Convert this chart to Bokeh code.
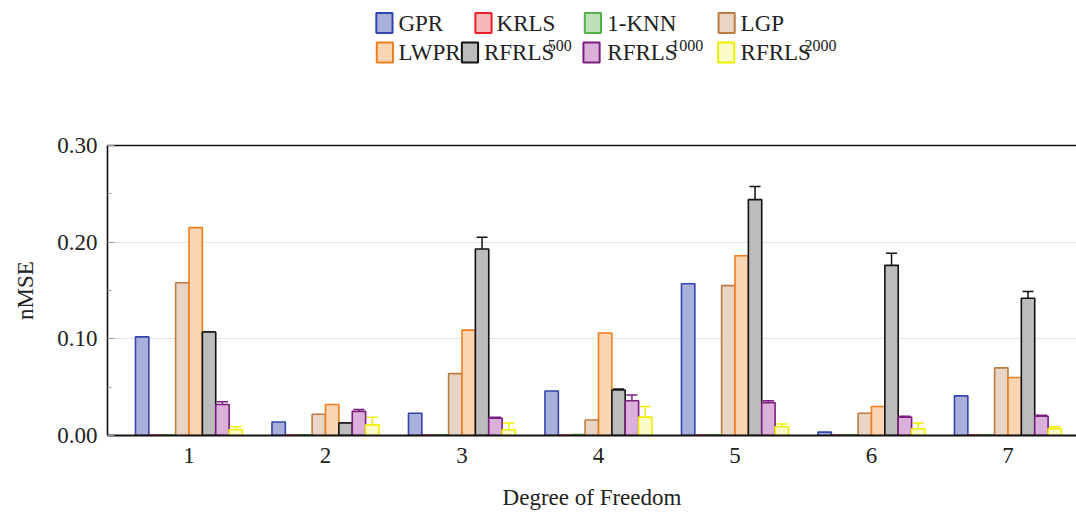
from bokeh.plotting import figure
from bokeh.models import (ColumnDataSource, Range1d, FixedTicker, LinearAxis,
                          Whisker, TeeHead, NumeralTickFormatter, Label)
from bokeh.layouts import column
from bokeh.transform import dodge
from bokeh.embed import file_html
from bokeh.resources import INLINE

# ---------------- data ----------------
dof = [1, 2, 3, 4, 5, 6, 7]
series = ["GPR", "KRLS", "1-KNN", "LGP", "LWPR", "RFRLS500", "RFRLS1000", "RFRLS2000"]
legend_base = ["GPR", "KRLS", "1-KNN", "LGP", "LWPR", "RFRLS", "RFRLS", "RFRLS"]
legend_sup = ["", "", "", "", "", "500", "1000", "2000"]

gpr = [0.102, 0.014, 0.023, 0.046, 0.157, 0.0035, 0.041]
krls = [0.0004, 0.0004, 0.0004, 0.0004, 0.0004, 0.0004, 0.0004]
knn = [0.0006, 0.0006, 0.0006, 0.001, 0.0006, 0.0006, 0.0006]
lgp = [0.158, 0.022, 0.064, 0.016, 0.155, 0.023, 0.070]
lwpr = [0.215, 0.032, 0.109, 0.106, 0.186, 0.030, 0.060]
rf500 = [0.107, 0.013, 0.193, 0.047, 0.244, 0.176, 0.142]
rf1000 = [0.032, 0.025, 0.018, 0.036, 0.034, 0.019, 0.020]
rf2000 = [0.006, 0.011, 0.006, 0.019, 0.009, 0.007, 0.007]

rf500_err = [0.0, 0.0, 0.012, 0.001, 0.0135, 0.0125, 0.007]
rf1000_err = [0.003, 0.002, 0.001, 0.006, 0.002, 0.001, 0.001]
rf2000_err = [0.003, 0.008, 0.007, 0.011, 0.003, 0.006, 0.002]

values = [gpr, krls, knn, lgp, lwpr, rf500, rf1000, rf2000]
errors = {5: rf500_err, 6: rf1000_err, 7: rf2000_err}

line_colors = ["#3344aa", "#e8202a", "#55b04a", "#bb7d42", "#f07d1e", "#111111", "#7a1f7f", "#eeee00"]
fill_colors = ["#aab0dc", "#f6b8b8", "#bde0b6", "#e8d5c6", "#fcd6b4", "#bcbcbc", "#dbb0db", "#fcfac8"]

SERIF = "Liberation Serif"
TXT = "#222222"
BAR_W = 0.098

# ---------------- main plot ----------------
p = figure(width=1076, height=416, output_backend="svg", toolbar_location=None,
           x_range=Range1d(0.403, 7.502), y_range=Range1d(0.0, 0.30),
           min_border_left=107, min_border_right=0, min_border_top=45, min_border_bottom=81)
p.outline_line_color = None
p.background_fill_color = "white"
p.border_fill_color = "white"

src = ColumnDataSource(dict(dof=dof, **{s: v for s, v in zip(series, values)}))

for i, s in enumerate(series):
    off = (i - 3.5) * BAR_W
    p.vbar(x=dodge("dof", off, range=p.x_range), top=s, bottom=0, width=BAR_W, source=src,
           fill_color=fill_colors[i], line_color=line_colors[i], line_width=1.6)
    if i in errors:
        err = errors[i]
        wsrc = ColumnDataSource(dict(
            base=[d + off for d in dof],
            lower=values[i],
            upper=[v + e for v, e in zip(values[i], err)]))
        p.add_layout(Whisker(source=wsrc, base="base", lower="lower", upper="upper",
                             dimension="height", line_color=line_colors[i], line_width=1.5,
                             upper_head=TeeHead(size=11, line_color=line_colors[i], line_width=1.5),
                             lower_head=None))

# axes
yax = p.yaxis[0]
yax.ticker = FixedTicker(ticks=[0.0, 0.1, 0.2, 0.3], minor_ticks=[0.05, 0.15, 0.25])
yax.formatter = NumeralTickFormatter(format="0.00")
yax.axis_label = "nMSE"
yax.axis_label_text_font = SERIF
yax.axis_label_text_font_size = "23px"
yax.axis_label_text_font_style = "normal"
yax.axis_label_text_color = TXT
yax.axis_label_standoff = 16
yax.major_label_text_font = SERIF
yax.major_label_text_font_size = "23px"
yax.major_label_text_color = TXT
yax.major_label_standoff = 10
yax.major_tick_in = 7
yax.major_tick_out = 0
yax.minor_tick_in = 4
yax.minor_tick_out = 0
yax.major_tick_line_color = "#9a9a9a"
yax.minor_tick_line_color = "#9a9a9a"
yax.axis_line_color = "#111111"
yax.axis_line_width = 1.6

xax = p.xaxis[0]
xax.ticker = FixedTicker(ticks=dof, minor_ticks=[])
xax.axis_label = "Degree of Freedom"
xax.axis_label_text_font = SERIF
xax.axis_label_text_font_size = "23px"
xax.axis_label_text_font_style = "normal"
xax.axis_label_text_color = TXT
xax.axis_label_standoff = 19
xax.major_label_text_font = SERIF
xax.major_label_text_font_size = "23px"
xax.major_label_text_color = TXT
xax.major_label_standoff = 12
xax.major_tick_in = 0
xax.major_tick_out = 0
xax.minor_tick_in = 0
xax.minor_tick_out = 0
xax.axis_line_color = "#111111"
xax.axis_line_width = 1.8

top_axis = LinearAxis(ticker=FixedTicker(ticks=[]), major_label_text_font_size="0px",
                      major_tick_in=0, major_tick_out=0, minor_tick_in=0, minor_tick_out=0,
                      axis_line_color="#111111", axis_line_width=1.6)
p.add_layout(top_axis, "above")

p.xgrid.grid_line_color = None
p.ygrid.ticker = FixedTicker(ticks=[0.1, 0.2])
p.ygrid.grid_line_color = "#e4e4e4"
p.ygrid.grid_line_width = 1.2

# ---------------- legend (separate strip) ----------------
leg = figure(width=1076, height=100, output_backend="svg", toolbar_location=None,
             x_range=Range1d(0, 1076), y_range=Range1d(100, 0),
             min_border=0)
leg.axis.visible = False
leg.grid.visible = False
leg.outline_line_color = None

sw_x = [307.5, 417.5, 539, 687.5, 308, 402.5, 537.5, 687]
sw_y = [22.5, 22.5, 22.5, 22.5, 52, 52, 52, 52]
tx_x = [323, 432, 555, 703, 323, 418, 555, 703]
SUP_DX = 71

leg_src = ColumnDataSource(dict(sx=sw_x, sy=sw_y, fill=fill_colors, line=line_colors))
leg.rect(x="sx", y="sy", width=18, height=20, fill_color="fill", line_color="line",
         line_width=2, source=leg_src)

for k in range(len(series)):
    leg.add_layout(Label(x=tx_x[k], y=sw_y[k], text=legend_base[k], text_font=SERIF,
                         text_font_size="23px", text_baseline="middle", text_align="left",
                         text_color=TXT))
    if legend_sup[k]:
        leg.add_layout(Label(x=tx_x[k] + SUP_DX, y=sw_y[k] - 7, text=legend_sup[k],
                             text_font=SERIF, text_font_size="16px", text_baseline="middle",
                             text_align="left", text_color=TXT))

layout = column(leg, p, spacing=0)
open("out.html", "w").write(file_html(layout, INLINE))
